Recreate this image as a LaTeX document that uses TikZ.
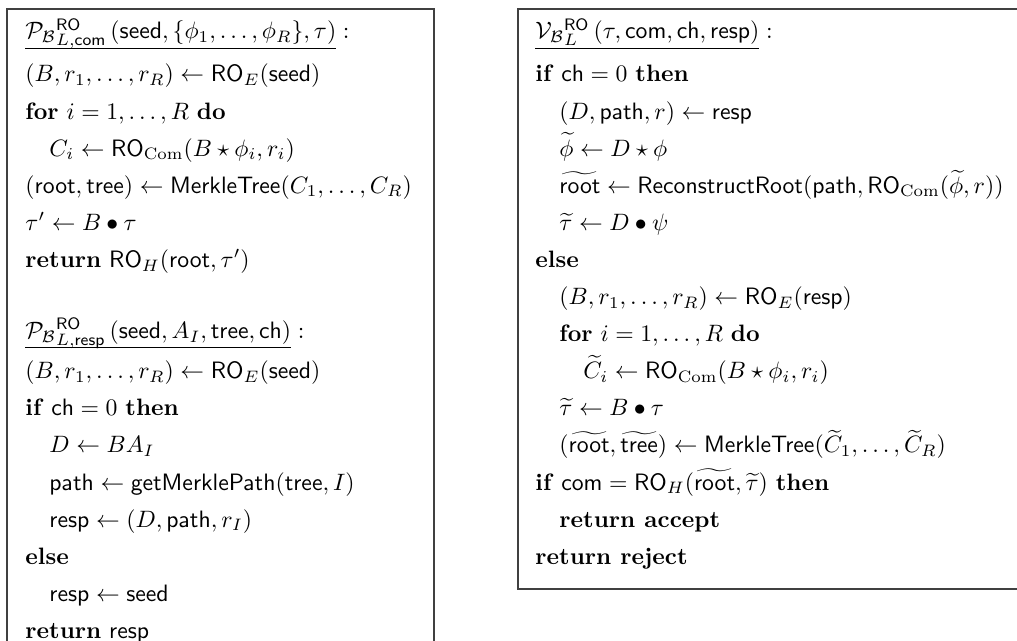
\documentclass[tikz,border=0pt]{standalone}
\usepackage{amsmath,amssymb}
\newcommand{\sfx}[1]{\mathsf{#1}}
\newcommand{\kw}[1]{\textbf{#1}}
% underlined procedure header: underline kept close to the baseline
\newcommand{\hdr}[1]{$\underline{\smash[b]{#1}\rule[-2.5pt]{0pt}{1pt}}\;{:}$}
\begin{document}
\begin{tikzpicture}[x=0.4218pt,y=-0.4218pt,
  ln/.style={anchor=base west,inner sep=0pt,font=\normalsize},
  frame/.style={draw=black!75,line width=0.6pt}]
\useasboundingbox (0,0) rectangle (1017,641);
% frames
\draw[frame] (7,641) -- (7,9) -- (434,9) -- (434,641);
\draw[frame] (1017,9) -- (518,9) -- (518,589) -- (1017,589);
% left column: commit
\node[ln] (a0) at (25,39) {\hdr{\mathcal{P}_{\mathcal{B}}{}^{\sfx{RO}}_{L,\sfx{com}}\,(\sfx{seed},\{\phi_1,\ldots,\phi_R\},\tau)}};
\node[ln] (a1) at (25,82) {$(B,r_1,\ldots,r_R)\leftarrow\sfx{RO}_E(\sfx{seed})$};
\node[ln] (a2) at (25,119.1) {\kw{for} $i=1,\ldots,R$ \kw{do}};
\node[ln] (a3) at (49,156.2) {$C_i\leftarrow\sfx{RO}_{\mathrm{Com}}(B\star\phi_i,r_i)$};
\node[ln] (a4) at (25,193.3) {$(\sfx{root},\sfx{tree})\leftarrow\sfx{MerkleTree}(C_1,\ldots,C_R)$};
\node[ln] (a5) at (25,230.4) {$\tau'\leftarrow B\bullet\tau$};
\node[ln] (a6) at (25,267.5) {\kw{return} $\sfx{RO}_H(\sfx{root},\tau')$};
% left column: response
\node[ln] (b0) at (25,338.5) {\hdr{\mathcal{P}_{\mathcal{B}}{}^{\sfx{RO}}_{L,\sfx{resp}}\,(\sfx{seed},A_I,\sfx{tree},\sfx{ch})}};
\node[ln] (b1) at (25,378.8) {$(B,r_1,\ldots,r_R)\leftarrow\sfx{RO}_E(\sfx{seed})$};
\node[ln] (b2) at (25,415.9) {\kw{if} $\sfx{ch}=0$ \kw{then}};
\node[ln] (b3) at (49,453) {$D\leftarrow BA_I$};
\node[ln] (b4) at (49,490.1) {$\sfx{path}\leftarrow\sfx{getMerklePath}(\sfx{tree},I)$};
\node[ln] (b5) at (49,527.2) {$\sfx{resp}\leftarrow(D,\sfx{path},r_I)$};
\node[ln] (b6) at (25,564.3) {\kw{else}};
\node[ln] (b7) at (49,601.4) {$\sfx{resp}\leftarrow\sfx{seed}$};
\node[ln] (b8) at (25,638.5) {\kw{return} $\sfx{resp}$};
% right column: verify
\node[ln] (c0) at (535,39) {\hdr{\mathcal{V}_{\mathcal{B}}{}^{\sfx{RO}}_{L}\,(\tau,\sfx{com},\sfx{ch},\sfx{resp})}};
\node[ln] (c1) at (535,82) {\kw{if} $\sfx{ch}=0$ \kw{then}};
\node[ln] (c2) at (559,119.1) {$(D,\sfx{path},r)\leftarrow\sfx{resp}$};
\node[ln] (c3) at (559,156.2) {$\widetilde{\phi}\leftarrow D\star\phi$};
\node[ln] (c4) at (559,193.3) {$\widetilde{\sfx{root}}\leftarrow\sfx{ReconstructRoot}(\sfx{path},\sfx{RO}_{\mathrm{Com}}(\widetilde{\phi},r))$};
\node[ln] (c5) at (559,230.4) {$\widetilde{\tau}\leftarrow D\bullet\psi$};
\node[ln] (c6) at (535,267.5) {\kw{else}};
\node[ln] (c7) at (559,304.6) {$(B,r_1,\ldots,r_R)\leftarrow\sfx{RO}_E(\sfx{resp})$};
\node[ln] (c8) at (559,341.7) {\kw{for} $i=1,\ldots,R$ \kw{do}};
\node[ln] (c9) at (583,378.8) {$\widetilde{C}_i\leftarrow\sfx{RO}_{\mathrm{Com}}(B\star\phi_i,r_i)$};
\node[ln] (c10) at (559,415.9) {$\widetilde{\tau}\leftarrow B\bullet\tau$};
\node[ln] (c11) at (559,453) {$(\widetilde{\sfx{root}},\widetilde{\sfx{tree}})\leftarrow\sfx{MerkleTree}(\widetilde{C}_1,\ldots,\widetilde{C}_R)$};
\node[ln] (c12) at (535,490.1) {\kw{if} $\sfx{com}=\sfx{RO}_H(\widetilde{\sfx{root}},\widetilde{\tau})$ \kw{then}};
\node[ln] (c13) at (559,527.2) {\kw{return accept}};
\node[ln] (c14) at (535,564.3) {\kw{return reject}};
\end{tikzpicture}
\end{document}
